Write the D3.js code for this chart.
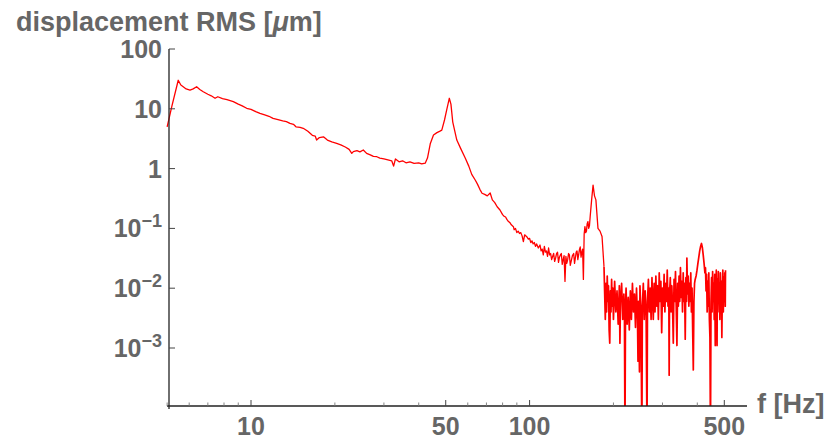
<!DOCTYPE html>
<html>
<head>
<meta charset="utf-8">
<script src="https://cdn.jsdelivr.net/npm/d3@7"></script>
<style>
  html, body { margin: 0; padding: 0; background: #fff; }
  svg { display: block; }
  text { font-family: "Liberation Sans", Arial, sans-serif; font-weight: bold; fill: #666; }
</style>
</head>
<body>
<svg id="chart" width="828" height="439"></svg>
<script>
// ---------- data ----------
// low-frequency part: 5 – 42 Hz
const freqLow = [5.0, 5.2, 5.48, 5.6, 5.71, 5.85, 6.04, 6.2, 6.38, 6.55, 6.74, 7.0, 7.2, 7.43, 7.6, 7.9, 8.2, 8.64, 9.0, 9.3,
  9.65, 10.0, 10.4, 10.77, 11.2, 11.6, 12.0, 12.5, 13.0, 13.4, 13.8, 14.2, 14.5, 15.0, 15.4, 16.0, 16.6, 17.0, 17.2, 17.6,
  18.2, 18.8, 19.5, 20.3, 21.0, 21.8, 22.5, 23.0, 23.3, 24.0, 24.6, 25.3, 26.0, 26.8, 27.5, 28.3, 29.0, 30.0, 31.0, 32.0,
  32.5, 33.0, 34.0, 35.0, 36.0, 37.2, 38.5, 40.0, 41.0, 42.2];
const rmsLow = [5.0, 11.1, 30.0, 25.0, 23.4, 21.5, 20.6, 21.5, 23.4, 21.0, 19.3, 17.5, 16.5, 15.0, 15.9, 14.8, 14.2, 13.2, 12.0, 11.2,
  10.2, 9.8, 9.0, 8.4, 7.9, 7.5, 6.9, 6.6, 6.3, 6.1, 5.7, 5.5, 5.0, 4.9, 4.72, 4.2, 3.6, 3.5, 3.0, 3.3,
  3.4, 3.0, 2.8, 2.65, 2.5, 2.3, 2.1, 1.8, 1.92, 2.0, 1.9, 2.05, 1.8, 1.7, 1.6, 1.58, 1.5, 1.45, 1.4, 1.35,
  1.1, 1.45, 1.3, 1.35, 1.25, 1.3, 1.22, 1.25, 1.2, 1.23];

// resonances at ~51 Hz and ~169 Hz: 43 – 185 Hz
const freqMid = [43, 44, 45.2, 46.5, 47.5, 48.4, 49.5, 50.5, 51.5, 52.2, 53, 54.8, 56.5, 58.8, 60.5, 62, 63.8, 65, 66.3, 67.5,
  69, 70.5, 72.2, 73.5, 75, 76.5, 78.3, 80, 81, 82, 83, 84, 85, 86, 87.5, 88, 89, 90, 91, 92, 93, 94, 95, 96, 97.7, 99, 100, 101, 102, 103,
  104, 105, 106, 107.5, 109, 110, 111, 112, 113, 114, 115, 116, 117, 118, 119, 120, 122, 123, 124, 125, 126, 127, 128, 129, 130, 131, 132, 133, 134, 135,
  136, 137, 138, 139, 140, 141, 142.5, 144, 145, 146, 147, 148, 149, 150, 151, 152, 153, 154, 155, 156, 157, 158, 159, 160, 161, 162, 163, 164, 165, 167,
  169, 171, 173, 176, 179, 182, 185];
const rmsMid = [1.5, 2.6, 3.65, 4.0, 4.2, 4.4, 6.5, 10, 15, 12, 6, 3.0, 2.2, 1.49, 1.1, 0.8, 0.644, 0.55, 0.45, 0.387,
  0.37, 0.35, 0.39, 0.30, 0.27, 0.23, 0.203, 0.17, 0.16, 0.155, 0.14, 0.13, 0.125, 0.115, 0.107, 0.095, 0.10, 0.085, 0.09, 0.082, 0.085, 0.075, 0.06, 0.078, 0.0726, 0.066, 0.068, 0.058, 0.062, 0.055,
  0.058, 0.05, 0.055, 0.047, 0.0527, 0.042, 0.045, 0.036, 0.05, 0.04, 0.042, 0.034, 0.047, 0.036, 0.038, 0.03, 0.0383, 0.028, 0.032, 0.038, 0.04, 0.027, 0.033, 0.036, 0.038, 0.025, 0.03, 0.035, 0.013, 0.034,
  0.026, 0.03, 0.038, 0.036, 0.024, 0.028, 0.035, 0.038, 0.026, 0.032, 0.04, 0.042, 0.03, 0.036, 0.044, 0.049, 0.033, 0.04, 0.045, 0.014, 0.08, 0.107, 0.085, 0.09, 0.12, 0.13, 0.1, 0.11, 0.157, 0.3,
  0.53, 0.35, 0.30, 0.10, 0.09, 0.073, 0.0227];

// noisy part above 185 Hz
const freqHigh = [187, 188, 189, 190, 191, 192, 193, 194, 195, 196, 197, 198, 199, 200, 202, 204, 206, 208, 210, 211,
  212, 214, 216, 218, 219, 220, 221, 222, 224, 226, 228, 230, 232, 234, 236, 238, 240, 242, 244, 245,
  246, 248, 249, 251, 253, 254, 256, 258, 260, 262, 264, 265, 267, 269, 271, 273, 275, 277, 278, 280,
  282, 284, 286, 288, 290, 292, 294, 296, 298, 300, 302, 304, 306, 308, 310, 312, 314, 316, 317, 318,
  320, 322, 324, 326, 328, 330, 332, 334, 336, 338, 340, 342, 344, 346, 348, 350, 352, 354, 356, 358,
  360, 362, 364, 366, 367, 369, 371, 373, 375, 377, 379, 381, 383, 385, 387, 389, 391, 393, 396, 399,
  402, 405, 408, 411, 414, 417, 420, 423, 426, 428, 430, 432, 434, 436, 438, 440, 442, 444, 446, 448,
  450, 452, 454, 456, 458, 460, 462, 464, 466, 468, 470, 471, 472, 474, 476, 478, 480, 482, 484, 486,
  488, 490, 492, 494, 496, 498, 500, 502, 504, 505];
const rmsHigh = [0.003, 0.012, 0.004, 0.016, 0.006, 0.011, 0.002, 0.0012, 0.009, 0.004, 0.014, 0.005, 0.010, 0.003, 0.013, 0.004, 0.009, 0.0025, 0.011, 0.0012,
  0.006, 0.012, 0.003, 0.008, 0.004, 0.00003, 0.005, 0.010, 0.0025, 0.007, 0.002, 0.009, 0.003, 0.012, 0.004, 0.008, 0.0022, 0.010, 0.003, 0.0006,
  0.006, 0.0004, 0.011, 0.004, 0.00003, 0.005, 0.012, 0.003, 0.009, 0.004, 0.00003, 0.006, 0.014, 0.004, 0.010, 0.003, 0.015, 0.005, 0.003, 0.012,
  0.004, 0.016, 0.005, 0.011, 0.003, 0.018, 0.006, 0.013, 0.0018, 0.010, 0.005, 0.017, 0.004, 0.012, 0.006, 0.020, 0.005, 0.010, 0.00035, 0.008,
  0.015, 0.004, 0.011, 0.005, 0.0012, 0.014, 0.006, 0.019, 0.005, 0.0011, 0.012, 0.005, 0.016, 0.006, 0.022, 0.007, 0.013, 0.004, 0.018, 0.006,
  0.012, 0.0014, 0.015, 0.006, 0.032, 0.008, 0.016, 0.005, 0.012, 0.006, 0.018, 0.004, 0.010, 0.002, 0.00043, 0.006, 0.012, 0.014, 0.016, 0.020,
  0.026, 0.033, 0.042, 0.050, 0.056, 0.048, 0.036, 0.026, 0.018, 0.022, 0.009, 0.017, 0.004, 0.013, 0.005, 0.018, 0.003, 0.0015, 0.00003, 0.006,
  0.015, 0.004, 0.019, 0.006, 0.012, 0.003, 0.017, 0.0011, 0.008, 0.020, 0.005, 0.0011, 0.014, 0.004, 0.019, 0.006, 0.012, 0.003, 0.018, 0.005,
  0.013, 0.0015, 0.009, 0.020, 0.004, 0.015, 0.006, 0.018, 0.005, 0.020];

// ticks
const xMajorTicks = [10, 50, 100, 500];
const xMajorLabels = ["10", "50", "100", "500"];
const xMinorTicks = [5, 6, 7, 8, 9, 20, 30, 40, 60, 70, 80, 90, 200, 300, 400];
const yTicks = [100, 10, 1, 0.1, 0.01, 0.001];
const yTickLabels = ["100", "10", "1", "10|−1", "10|−2", "10|−3"];
const yTitle = "displacement RMS [";
const yTitleUnit = "μ";
const yTitleEnd = "m]";
const xTitle = "f [Hz]";

// ---------- drawing ----------
const svg = d3.select("#chart");
const x = d3.scaleLog().domain([10, 500]).range([251, 724.3]);
const y = d3.scaleLog().domain([0.001, 100]).range([348, 49]);

const axisX0 = 167, axisX1 = 747, axisY = 406;
const yAxisX = 169;

const toPts = (fs, vs) => fs.map((f, i) => [f, vs[i]]);
const lowMid = toPts(freqLow, rmsLow).concat(toPts(freqMid, rmsMid));
const high = [lowMid[lowMid.length - 1]].concat(toPts(freqHigh, rmsHigh));

svg.append("defs").append("clipPath").attr("id", "plotclip")
  .append("rect").attr("x", 0).attr("y", 0).attr("width", 828).attr("height", axisY);

const line = d3.line().x(d => x(d[0])).y(d => y(d[1]));
svg.append("path")
  .datum(lowMid)
  .attr("clip-path", "url(#plotclip)")
  .attr("fill", "none")
  .attr("stroke", "#f00")
  .attr("stroke-width", 1.3)
  .attr("stroke-linejoin", "round")
  .attr("d", line);
svg.append("path")
  .datum(high)
  .attr("clip-path", "url(#plotclip)")
  .attr("fill", "none")
  .attr("stroke", "#f00")
  .attr("stroke-width", 1.7)
  .attr("stroke-linejoin", "round")
  .attr("d", line);

// axes lines
svg.append("line").attr("x1", axisX0).attr("x2", axisX1).attr("y1", axisY).attr("y2", axisY)
  .attr("stroke", "#222").attr("stroke-width", 1.3);
svg.append("line").attr("x1", yAxisX).attr("x2", yAxisX).attr("y1", y(100)).attr("y2", axisY + 3)
  .attr("stroke", "#222").attr("stroke-width", 1.3);

// x ticks
svg.selectAll(".xmaj").data(xMajorTicks).enter().append("line")
  .attr("x1", d => x(d)).attr("x2", d => x(d)).attr("y1", axisY).attr("y2", axisY - 6)
  .attr("stroke", "#444").attr("stroke-width", 1);
svg.selectAll(".xmin").data(xMinorTicks).enter().append("line")
  .attr("x1", d => x(d)).attr("x2", d => x(d)).attr("y1", axisY).attr("y2", axisY - 3.5)
  .attr("stroke", "#777").attr("stroke-width", 0.9);
svg.selectAll(".xlab").data(xMajorTicks).enter().append("text")
  .attr("x", d => x(d)).attr("y", 435).attr("text-anchor", "middle")
  .attr("font-size", 25).text((d, i) => xMajorLabels[i]);

// y ticks
svg.selectAll(".ytk").data(yTicks).enter().append("line")
  .attr("x1", yAxisX).attr("x2", yAxisX + 6).attr("y1", d => y(d)).attr("y2", d => y(d))
  .attr("stroke", "#444").attr("stroke-width", 1);
yTicks.forEach((t, i) => {
  const cy = Math.max(y(t), 46);
  const parts = yTickLabels[i].split("|");
  const txt = svg.append("text").attr("x", 162).attr("y", cy + 9)
    .attr("text-anchor", "end").attr("font-size", 25);
  txt.append("tspan").text(parts[0]);
  if (parts.length > 1) {
    txt.append("tspan").attr("font-size", 18).attr("dy", -10).text(parts[1]);
  }
});

// titles
const t1 = svg.append("text").attr("x", 16).attr("y", 31).attr("font-size", 27);
t1.append("tspan").text(yTitle);
t1.append("tspan").attr("font-style", "italic").text(yTitleUnit);
t1.append("tspan").text(yTitleEnd);

svg.append("text").attr("x", 757).attr("y", 413).attr("font-size", 27).text(xTitle);
</script>
</body>
</html>
